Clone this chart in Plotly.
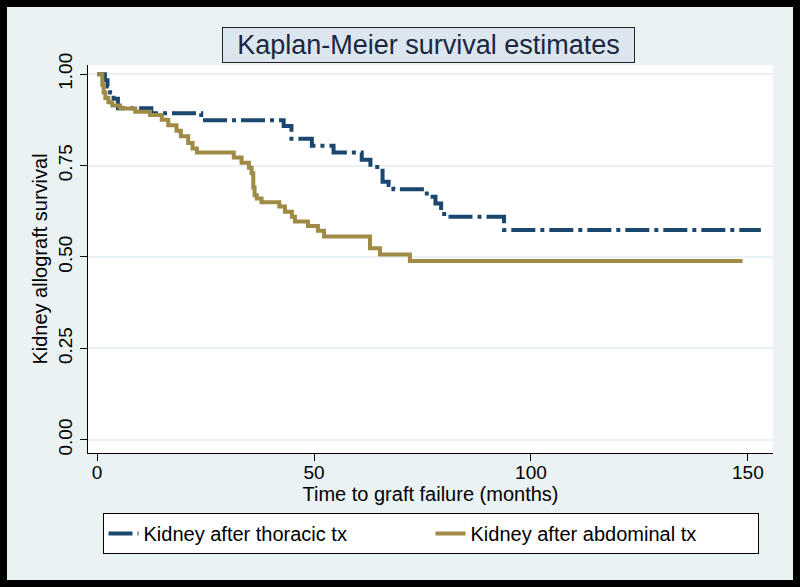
import plotly.graph_objects as go

# Kaplan-Meier step data (time in months, survival probability)
t_thoracic = [0, 1.8, 2.4, 3.0, 3.8, 4.8, 12.5, 24, 43, 44.8, 49.5, 54.5, 61, 63,
              65.8, 67.2, 68.3, 76, 78, 79.3, 80, 93.8, 153]
s_thoracic = [1.0, 0.983, 0.966, 0.95, 0.933, 0.907, 0.893, 0.874, 0.858, 0.823, 0.804,
              0.786, 0.766, 0.746, 0.706, 0.697, 0.685, 0.665, 0.646, 0.628, 0.61, 0.574, 0.574]

t_abdominal = [0, 1.2, 1.5, 1.9, 2.6, 3.5, 5.3, 8.8, 12.2, 14.9, 16.4, 18.3, 19.3, 21, 22,
               23, 31.5, 33.3, 35, 35.6, 36, 36.3, 36.8, 37.9, 42, 43.3, 44.9, 45.6, 48.6,
               50.9, 52.3, 62.9, 65.2, 72.1, 148.8]
s_abdominal = [1.0, 0.97, 0.95, 0.935, 0.923, 0.914, 0.906, 0.897, 0.888, 0.875, 0.86, 0.845,
               0.83, 0.812, 0.797, 0.786, 0.772, 0.758, 0.744, 0.729, 0.69, 0.669, 0.66, 0.65,
               0.638, 0.624, 0.61, 0.597, 0.585, 0.572, 0.556, 0.524, 0.507, 0.489, 0.489]

x_ticks = [0, 50, 100, 150]
y_ticks = [0, 0.25, 0.5, 0.75, 1.0]
y_ticklabels = ["0.00", "0.25", "0.50", "0.75", "1.00"]

name_thoracic = "Kidney after thoracic tx"
name_abdominal = "Kidney after abdominal tx"

NAVY = "#1a476f"
OLIVE = "#9f8a46"
BG = "#eaf2f3"
FONT = "Liberation Sans, Arial, sans-serif"

W, H = 800, 587
ML, MR, MT, MB = 88, 27, 65, 134
PW, PH = W - ML - MR, H - MT - MB


def px_x(px):
    return (px - ML) / PW


def px_y(py):
    return (H - MB - py) / PH


fig = go.Figure()
fig.add_trace(go.Scatter(
    x=t_thoracic, y=s_thoracic, mode="lines", name=name_thoracic,
    line=dict(color=NAVY, width=4, shape="hv", dash="24px,5px,4px,5px"),
))
fig.add_trace(go.Scatter(
    x=t_abdominal, y=s_abdominal, mode="lines", name=name_abdominal,
    line=dict(color=OLIVE, width=4, shape="hv"),
))

fig.update_layout(
    width=W, height=H,
    margin=dict(l=ML, r=MR, t=MT, b=MB),
    paper_bgcolor=BG, plot_bgcolor="white",
    font=dict(family=FONT, size=17, color="black"),
    showlegend=True,
    legend=dict(
        orientation="h", x=0.5, xanchor="center", y=px_y(513), yanchor="top",
        bgcolor="white", bordercolor="black", borderwidth=1,
        font=dict(family=FONT, size=20, color="black"),
        entrywidth=282, itemwidth=30,
    ),
    xaxis=dict(
        range=[-2.1, 155.8], tickvals=x_ticks, ticks="outside", ticklen=7,
        tickcolor="black", showline=True, linecolor="black", linewidth=1,
        showgrid=False, zeroline=False, ticklabelstandoff=-5,
        tickfont=dict(size=19),
        title=dict(text="Time to graft failure (months)", font=dict(size=20), standoff=0),
    ),
    yaxis=dict(
        range=[-0.036, 1.025], tickvals=y_ticks, ticktext=y_ticklabels,
        ticks="outside", ticklen=7, tickcolor="black", tickangle=-90,
        showline=True, linecolor="black", linewidth=1,
        showgrid=True, gridcolor=BG, gridwidth=1.5, zeroline=False,
        tickfont=dict(size=19),
        title=dict(text="Kidney allograft survival", font=dict(size=20), standoff=2),
    ),
    annotations=[dict(
        text="Kaplan-Meier survival estimates", xref="paper", yref="paper",
        x=px_x(428.5), y=px_y(45), xanchor="center", yanchor="middle",
        showarrow=False, font=dict(family=FONT, size=27, color="#1c2742"),
        bgcolor="#dbe6ee", bordercolor="#222222", borderwidth=1,
        width=405, height=28, borderpad=3,
    )],
    shapes=[dict(
        type="rect", xref="paper", yref="paper",
        x0=px_x(3.5), x1=px_x(W - 3.5), y0=px_y(H - 3.5), y1=px_y(3.5),
        line=dict(color="black", width=7), fillcolor="rgba(0,0,0,0)", layer="above",
    )],
)

fig.write_html("out.html", config={"displayModeBar": False},
               post_script="document.body.style.margin='0px';")
